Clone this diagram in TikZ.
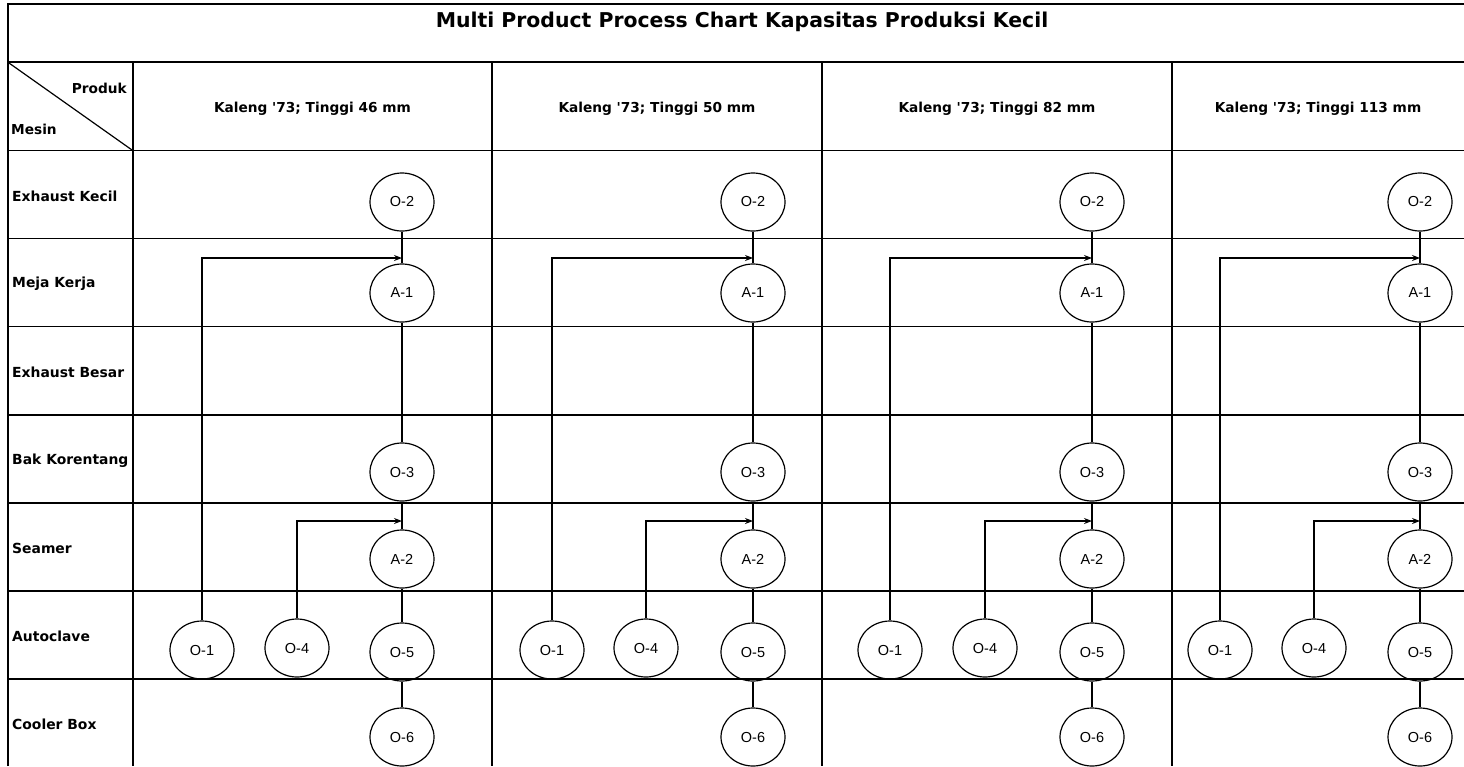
\documentclass[tikz,border=0pt]{standalone}
\usepackage{fontspec}
\setmainfont{Liberation Sans}
\newfontfamily\lblfont{DejaVu Sans}
\usetikzlibrary{arrows.meta,shapes.geometric}

\tikzset{
  proc/.style={draw, line width=1.2pt, ellipse, minimum width=64pt, minimum height=58pt,
    inner sep=0pt, font=\fontsize{14.5}{16}\selectfont},
  lbl/.style={font=\lblfont\bfseries\fontsize{13.7}{16}\selectfont, inner sep=0pt},
  flow/.style={line width=1.2pt},
  feed/.style={line width=1.2pt, -{Stealth[length=8pt, width=6pt]}}
}

\begin{document}
\begin{tikzpicture}[x=1pt, y=-1pt]
    \useasboundingbox (0,0) rectangle (1464,766);

    % Tabel
    \draw[line width=1.5pt] (8,766) -- (8,4) -- (1464,4);
    \foreach \y in {62,150.5,238.6,326.7,414.8,502.9,591,679.1}
        \draw[line width=1.5pt] (8,\y) -- (1464,\y);
    \foreach \x in {133,492,822,1172}
        \draw[line width=1.5pt] (\x,62) -- (\x,766);
    \draw[line width=1.2pt] (9,63) -- (132,150);

    % Judul dan kepala kolom
    \node[lbl, font=\lblfont\bfseries\fontsize{20.4}{22}\selectfont] (judul) at (742,22)
        {Multi Product Process Chart Kapasitas Produksi Kecil};
    \node[lbl, anchor=east] (produk) at (127,88) {Produk};
    \node[lbl, anchor=west] (mesin) at (11,129) {Mesin};
    \foreach \x/\t [count=\k] in {312.5/46,657/50,997/82,1318/113}
        \node[lbl] (kaleng\k) at (\x,109) {Kaleng '73; Tinggi \t{} mm};

    % Nama mesin
    \foreach \m [count=\i from 0] in {Exhaust Kecil,Meja Kerja,Exhaust Besar,Bak Korentang,Seamer,Autoclave,Cooler Box}
        \node[lbl, anchor=west, font=\lblfont\bfseries\fontsize{13.9}{16}\selectfont]
            (mesin\i) at (12,{196+88.1*\i}) {\m};

    % Proses tiap produk
    \foreach \m/\a/\b [count=\c] in {402/202/297,753/552/646,1092/890/985,1420/1220/1314} {
        \node[proc] (o2\c) at (\m,202) {O-2};
        \node[proc] (a1\c) at (\m,293) {A-1};
        \node[proc] (o3\c) at (\m,472) {O-3};
        \node[proc] (a2\c) at (\m,559) {A-2};
        \node[proc] (o5\c) at (\m,652) {O-5};
        \node[proc] (o6\c) at (\m,737) {O-6};
        \node[proc] (o1\c) at (\a,650) {O-1};
        \node[proc] (o4\c) at (\b,648) {O-4};
        \coordinate (m1\c) at (\m,258);
        \coordinate (m2\c) at (\m,521);
        \draw[flow] (o2\c) -- (a1\c);
        \draw[flow] (a1\c) -- (o3\c);
        \draw[flow] (o3\c) -- (a2\c);
        \draw[flow] (a2\c) -- (o5\c);
        \draw[flow] (o5\c) -- (o6\c);
        \draw[feed] (o1\c) |- (m1\c);
        \draw[feed] (o4\c) |- (m2\c);
    }
\end{tikzpicture}
\end{document}
